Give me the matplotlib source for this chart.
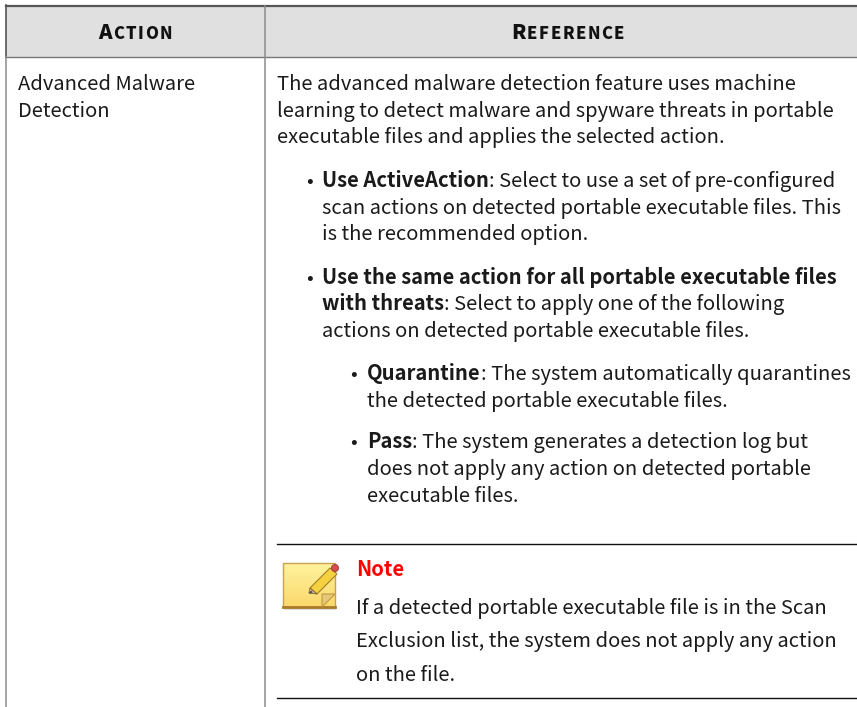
import numpy as np
import matplotlib
matplotlib.use('Agg')
import matplotlib.pyplot as plt
from matplotlib.patches import Polygon, Rectangle, Circle

plt.rcParams['font.family'] = ['Noto Sans CJK JP', 'DejaVu Sans']

W, H = 857, 707
BODY = 14.5
BOLD = 14.56
INK = '#1a1a1a'

# header pieces: (big letter, small rest)
header_left = ('A', 'CTION')
header_right = ('R', 'EFERENCE')
first_col = [('Advanced Malware', 90), ('Detection', 117)]

# each line: x, baseline y, list of (text, bold)
body_lines = [
    (277, 90, [('The advanced malware detection feature uses machine', False)]),
    (277, 117, [('learning to detect malware and spyware threats in portable', False)]),
    (277, 143, [('executable files and applies the selected action.', False)]),
    (322, 187, [('Use ActiveAction', True), (': Select to use a set of pre-configured', False)]),
    (322, 214, [('scan actions on detected portable executable files. This', False)]),
    (322, 240, [('is the recommended option.', False)]),
    (322, 284, [('Use the same action for all portable executable files', True)]),
    (322, 310, [('with threats', True), (': Select to apply one of the following', False)]),
    (322, 337, [('actions on detected portable executable files.', False)]),
    (367, 380, [('Quarantine', True), (': The system automatically quarantines', False)]),
    (367, 407, [('the detected portable executable files.', False)]),
    (367, 448, [('Pass', True), (': The system generates a detection log but', False)]),
    (367, 475, [('does not apply any action on detected portable', False)]),
    (367, 502, [('executable files.', False)]),
    (356, 614, [('If a detected portable executable file is in the Scan', False)]),
    (356, 647, [('Exclusion list, the system does not apply any action', False)]),
    (356, 681, [('on the file.', False)]),
]
bullets = [(306.5, 187), (306.5, 284), (350.5, 380), (350.5, 448)]

fig = plt.figure(figsize=(W / 100, H / 100), dpi=100)
ax = fig.add_axes([0, 0, 1, 1])
ax.set_xlim(0, W)
ax.set_ylim(H, 0)
ax.axis('off')

# table frame
ax.add_patch(Rectangle((6, 6), W - 6, 51, fc='#e0e0e0', ec='none'))
ax.plot([6, W], [6, 6], color='#555555', lw=1.6)
ax.plot([6, W], [57, 57], color='#777777', lw=1.0)
ax.plot([6.5, 6.5], [5, 57], color='#555555', lw=1.2)
ax.plot([265, 265], [6, H], color='#8c8c8c', lw=1.1)
ax.plot([6.5, 6.5], [57, H], color='#8c8c8c', lw=1.1)

renderer = fig.canvas.get_renderer()
GAP = 1.5


def put_runs(x, y, runs, color=INK):
    for text, bold in runs:
        t = ax.text(x, y, text, fontsize=BOLD if bold else BODY, color=color, va='baseline', ha='left',
                    fontweight='bold' if bold else 'normal')
        x = t.get_window_extent(renderer).x1
    return x


def put_caps(cx, y, big, small):
    # small caps: one large letter, then the rest smaller and spaced out
    parts = [(big, 14.8)] + [(ch, 11.9) for ch in small]
    marks = [ax.text(0, y, ch, fontsize=s, fontweight=900, color='#111111', va='baseline') for ch, s in parts]
    widths = [m.get_window_extent(renderer).width for m in marks]
    x = cx - (sum(widths) + GAP * (len(parts) - 1)) / 2
    for m, w in zip(marks, widths):
        m.set_x(x)
        x += w + GAP


put_caps(135, 39, *header_left)
put_caps(567.5, 39, *header_right)

for text, y in first_col:
    ax.text(18, y, text, fontsize=BODY, color=INK, va='baseline')
for x, y, runs in body_lines:
    put_runs(x, y, runs)
for x, y in bullets:
    ax.text(x, y, '•', fontsize=BODY, color=INK, va='baseline')

# note block
ax.plot([277, W], [543.5, 543.5], color='#111111', lw=1.0)
ax.plot([277, W], [698, 698], color='#111111', lw=1.0)
ax.text(356, 576, 'Note', fontsize=BOLD, color='#ff0000', fontweight='bold', va='baseline')

# note icon
grad = np.linspace(0, 1, 64).reshape(64, 1)
c0, c1 = np.array([1.0, 0.95, 0.62]), np.array([0.98, 0.85, 0.42])
img = (c0 * (1 - grad)[..., None] + c1 * grad[..., None])
ax.add_patch(Rectangle((284, 564), 52, 46, fc='#00000022', ec='none'))
ax.imshow(img, extent=(283, 335, 607, 563), aspect='auto', zorder=2)
ax.add_patch(Rectangle((283, 563), 52, 44, fc='none', ec='#c8a050', lw=1.0, zorder=3))
ax.plot([283, 335], [607, 607], color='#a87c28', lw=2, zorder=3)
ax.add_patch(Polygon([[322, 607], [335, 594], [322, 594]], fc='#e8c878', ec='#c09840', lw=0.8, zorder=4))
ax.add_patch(Polygon([[330, 568], [337, 574], [317, 594], [310, 588]], fc='#f5d040', ec='#a08020', lw=0.8, zorder=5))
ax.add_patch(Polygon([[310, 588], [317, 594], [309, 593]], fc='#d8b890', ec='#806040', lw=0.6, zorder=5))
ax.add_patch(Polygon([[309, 593], [311.5, 591], [312, 593]], fc='#666666', ec='#555555', lw=0.6, zorder=6))
ax.add_patch(Circle((335, 568), 3.6, fc='#d05050', ec='#a03030', lw=0.5, zorder=6))
ax.set_xlim(0, W)
ax.set_ylim(H, 0)

fig.savefig('out.png', dpi=100)
